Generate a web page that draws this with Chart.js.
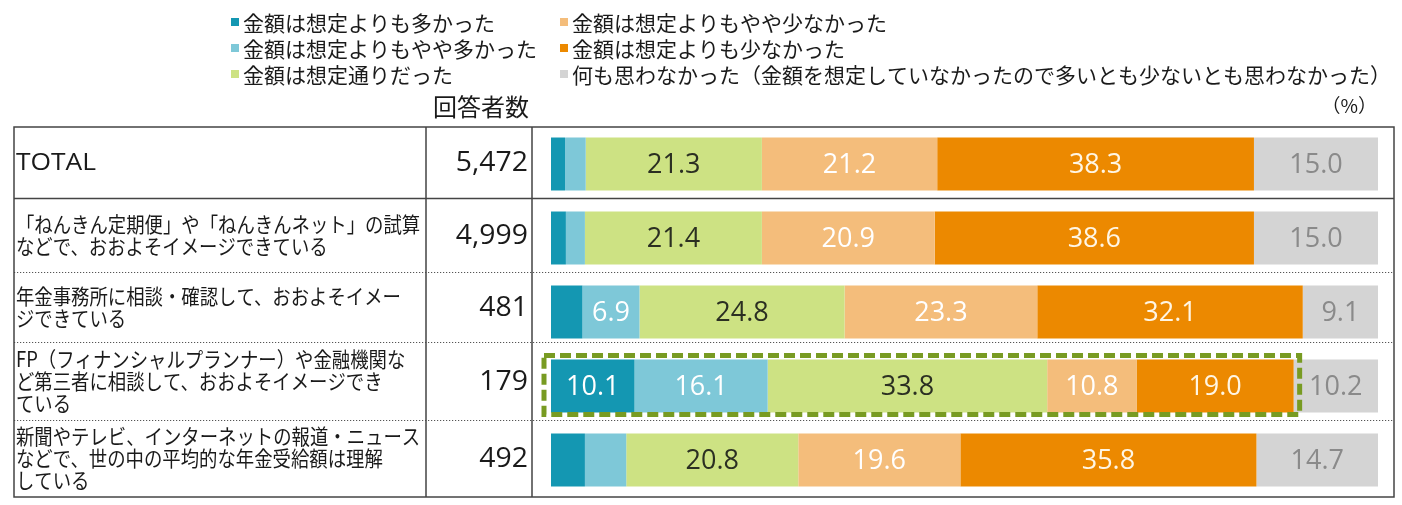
<!DOCTYPE html>
<html><head><meta charset="utf-8">
<script src="https://cdn.jsdelivr.net/npm/chart.js@4.4.0/dist/chart.umd.min.js"></script>
<style>html,body{margin:0;padding:0;background:#fff;overflow:hidden}canvas{display:block}</style>
</head><body>
<canvas id="c" width="1402" height="505" style="width:1402px;height:505px"></canvas>
<script>
// ---- data ----
const categories = [
  ['TOTAL'],
  ['「ねんきん定期便」や「ねんきんネット」の試算', 'などで、おおよそイメージできている'],
  ['年金事務所に相談・確認して、おおよそイメー', 'ジできている'],
  ['FP（フィナンシャルプランナー）や金融機関な', 'ど第三者に相談して、おおよそイメージでき', 'ている'],
  ['新聞やテレビ、インターネットの報道・ニュース', 'などで、世の中の平均的な年金受給額は理解', 'している']
];
const respondentCounts = ['5,472', '4,999', '481', '179', '492'];
const seriesNames = [
  '金額は想定よりも多かった',
  '金額は想定よりもやや多かった',
  '金額は想定通りだった',
  '金額は想定よりもやや少なかった',
  '金額は想定よりも少なかった',
  '何も思わなかった（金額を想定していなかったので多いとも少ないとも思わなかった）'
];
const muchMore   = [1.7, 1.8, 3.8, 10.1, 4.1];
const slightMore = [2.5, 2.3, 6.9, 16.1, 5.0];
const asExpected = [21.3, 21.4, 24.8, 33.8, 20.8];
const slightLess = [21.2, 20.9, 23.3, 10.8, 19.6];
const muchLess   = [38.3, 38.6, 32.1, 19.0, 35.8];
const noThought  = [15.0, 15.0, 9.1, 10.2, 14.7];
const countHeader = '回答者数';
const unitLabel = '（%）';
const highlightRow = 3;        // row framed by the dashed box
const highlightSeries = 5;     // number of segments inside the box

// ---- styles / layout ----
const seriesData = [muchMore, slightMore, asExpected, slightLess, muchLess, noThought];
const colors = ['#1497b2', '#7ec8d8', '#cde283', '#f4bd7b', '#ec8900', '#d4d4d4'];
const labelColors = ['#ffffff', '#ffffff', '#2b2f22', '#ffffff', '#fff6e4', '#8a8a8a'];
const rowLineOffsets = [-3, -3, -7, -3];
const JP = "'Noto Sans CJK JP', sans-serif";
const NUM = "'Open Sans', 'Noto Sans', sans-serif";

const tablePlugin = {
  id: 'table',
  afterDatasetsDraw(chart) {
    const c = chart.ctx;
    const metas = chart.data.datasets.map((d, i) => chart.getDatasetMeta(i));
    c.save();
    c.font = '27px ' + NUM;
    c.textAlign = 'center';
    c.textBaseline = 'middle';
    metas.forEach((meta, di) => {
      meta.data.forEach((el, ri) => {
        const v = seriesData[di][ri];
        if (v < 6) return;
        c.fillStyle = labelColors[di];
        c.fillText(v.toFixed(1), (el.x + el.base) / 2, el.y + 1);
      });
    });
    c.restore();
  },
  afterDraw(chart) {
    const c = chart.ctx;
    const ys = chart.scales.y;
    const area = chart.chartArea;
    const L = 14, R = 1394, C1 = 426, C2 = 532;
    const top = area.top, bottom = area.bottom;
    const n = categories.length;
    const bounds = [top];
    for (let i = 0; i < n - 1; i++) bounds.push(Math.round(ys.getPixelForValue(i + 0.5)) + rowLineOffsets[i]);
    bounds.push(bottom);

    c.save();
    for (let i = 1; i < n; i++) {
      c.beginPath();
      if (i === 1) { c.setLineDash([]); c.strokeStyle = '#444'; c.lineWidth = 1.5; }
      else { c.setLineDash([1.2, 1.8]); c.strokeStyle = '#555'; c.lineWidth = 1.2; }
      c.moveTo(L, bounds[i] + 0.5); c.lineTo(R, bounds[i] + 0.5); c.stroke();
    }
    c.setLineDash([]);
    c.strokeStyle = '#444'; c.lineWidth = 1.5;
    c.strokeRect(L, top, R - L, bottom - top);
    c.beginPath();
    c.moveTo(C1, top); c.lineTo(C1, bottom);
    c.moveTo(C2, top); c.lineTo(C2, bottom);
    c.stroke();

    c.fillStyle = '#1a1a1a';
    c.textBaseline = 'middle';
    categories.forEach((lines, i) => {
      const cy = (bounds[i] + bounds[i + 1]) / 2;
      const lh = 22;
      const y0 = cy - (lines.length - 1) * lh / 2;
      lines.forEach((t, k) => {
        c.save();
        c.textAlign = 'left';
        if (lines.length === 1) {
          c.font = '24px ' + NUM;
          c.translate(16, y0 + 1);
          c.scale(1.1, 1);
        } else {
          c.font = '21px ' + JP;
          c.translate(16, y0 + k * lh);
          c.scale(0.875, 1);
        }
        c.fillText(t, 0, 0);
        c.restore();
      });
      c.save();
      c.font = '27px ' + NUM;
      c.textAlign = 'right';
      c.translate(528, cy + 1);
      c.scale(1.05, 1);
      c.fillText(respondentCounts[i], 0, 0);
      c.restore();
    });

    c.font = '24px ' + JP;
    c.textAlign = 'center';
    c.fillText(countHeader, 481, 107);
    c.font = '19px ' + JP;
    c.textAlign = 'right';
    c.fillText(unitLabel, 1377, 106);

    c.font = '21px ' + JP;
    c.textAlign = 'left';
    const legendRowsY = [22, 48, 74];
    seriesNames.forEach((name, i) => {
      const col = i < 3 ? 0 : 1;
      const row = i % 3;
      const mx = col === 0 ? 231 : 560;
      const y = legendRowsY[row];
      c.fillStyle = colors[i];
      c.fillRect(mx, y - 4, 8, 8);
      c.fillStyle = '#1a1a1a';
      c.fillText(name, mx + 12, y + 1);
    });

    const metas = chart.data.datasets.map((d, i) => chart.getDatasetMeta(i));
    const first = metas[0].data[highlightRow];
    const last = metas[highlightSeries - 1].data[highlightRow];
    const h = first.height;
    const x0 = first.base - 7, x1 = last.x + 6;
    const y0 = first.y - h / 2 - 4, y1 = first.y + h / 2 + 2;
    c.strokeStyle = '#789b22';
    c.lineWidth = 5;
    c.setLineDash([11, 5]);
    c.strokeRect(x0, y0, x1 - x0, y1 - y0);
    c.restore();
  }
};

new Chart(document.getElementById('c').getContext('2d'), {
  type: 'bar',
  data: {
    labels: categories.map(l => l.join('')),
    datasets: seriesNames.map((name, i) => ({
      label: name,
      data: seriesData[i],
      backgroundColor: colors[i],
      borderWidth: 0,
      categoryPercentage: 1,
      barPercentage: 0.716
    }))
  },
  options: {
    indexAxis: 'y',
    responsive: false,
    animation: false,
    devicePixelRatio: 1,
    layout: { padding: { left: 551, right: 24, top: 127, bottom: 8 } },
    scales: {
      x: { stacked: true, min: 0, max: 100, display: false },
      y: { stacked: true, display: false }
    },
    plugins: { legend: { display: false }, tooltip: { enabled: false } }
  },
  plugins: [tablePlugin]
});
</script>
</body></html>
